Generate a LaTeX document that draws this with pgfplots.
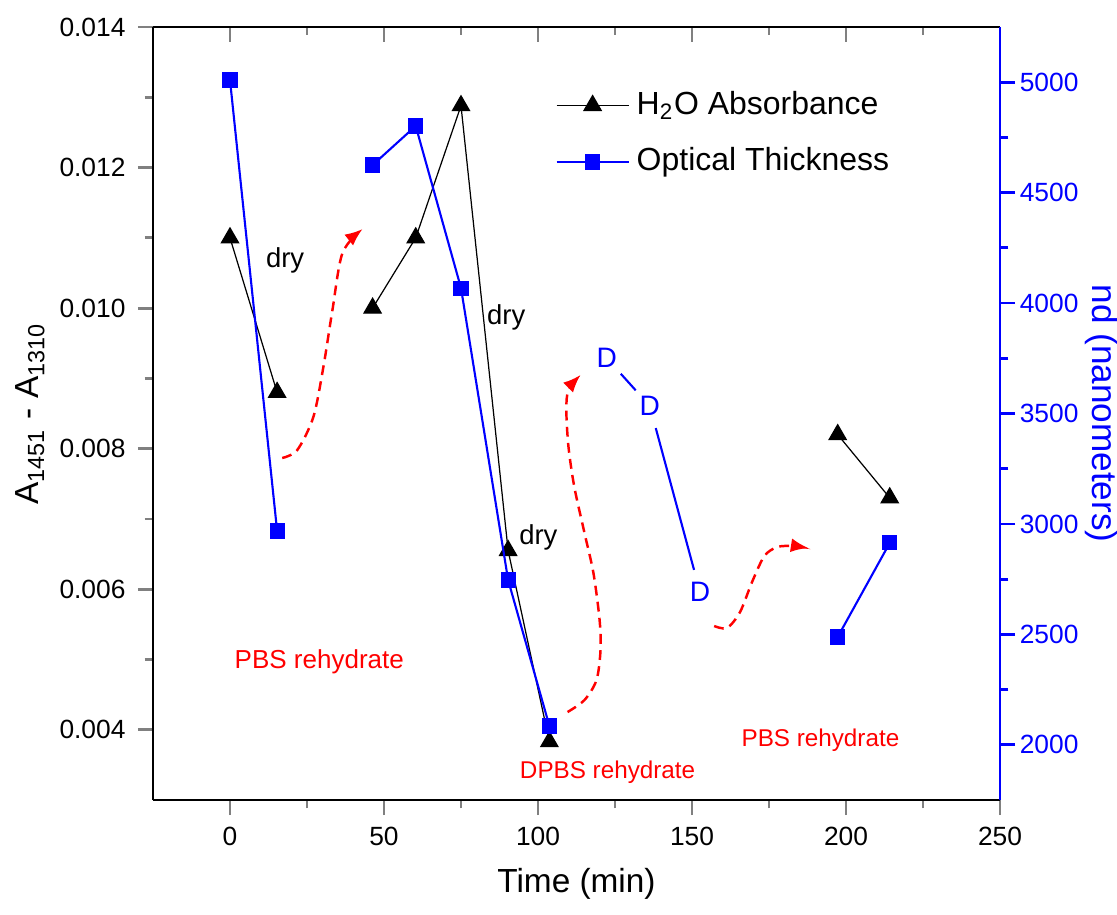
\documentclass[border=0pt]{standalone}
\usepackage{fontspec}
\setmainfont{Liberation Sans}
\usepackage{pgfplots}
\pgfplotsset{compat=1.18}
\usetikzlibrary{arrows.meta}

\begin{document}
\begin{tikzpicture}
\pgfplotsset{
  common/.style={
    at={(0,0)}, anchor=south west, scale only axis,
    width=8.47cm, height=7.73cm,
    xmin=-25, xmax=250,
    clip=false,
    /pgf/number format/assume math mode=true,
    tick label style={font=\fontsize{7.5}{9}\selectfont},
    major tick length=4.3pt, minor tick length=2.4pt,
    axis line style={line width=0.8pt},
    every tick/.append style={line width=0.8pt},
  },
}
% top axis (ticks pointing inward)
\begin{axis}[common,
  ymin=0, ymax=1,
  axis x line*=top, axis y line=none,
  tick align=inside,
  xtick={0,50,...,250}, minor x tick num=1,
  xticklabels={},
]
\end{axis}

% main (left) axis
\begin{axis}[common,
  ymin=0.003, ymax=0.014,
  axis x line*=bottom, axis y line*=left,
  tick align=outside,
  xtick={0,50,100,150,200,250}, minor x tick num=1,
  ytick={0.004,0.006,0.008,0.010,0.012,0.014}, minor y tick num=1,
  scaled y ticks=false,
  yticklabel style={/pgf/number format/.cd, fixed, fixed zerofill, precision=3},
  xlabel={Time (min)},
  ylabel={A\textsubscript{1451} - A\textsubscript{1310}},
  every axis x label/.style={at={(axis description cs:0.5,-0.109)}, anchor=center, font=\fontsize{9.5}{11}\selectfont},
  every axis y label/.style={at={(axis description cs:-0.145,0.5)}, anchor=center, rotate=90, font=\fontsize{9.5}{11}\selectfont},
  unbounded coords=jump,
]
\addplot[black, line width=0.35pt, mark=triangle*, mark size=2.8pt, mark options={solid, fill=black}]
  coordinates {(0,0.0110) (15.3,0.0088) (30,nan) (46.3,0.0100) (60.3,0.0110) (75,0.01288) (90.3,0.00655) (103.7,0.00383) (150,nan) (197.3,0.0082) (214.2,0.0073)};

% red dashed annotation arrows
\addplot[red, dashed, dash pattern=on 2.8pt off 1.8pt, line width=0.7pt, smooth, -{Latex[length=5pt,width=4pt]}]
  coordinates {(16.95,0.007867) (21.85,0.007981) (27.06,0.008450) (30.32,0.009162) (33.26,0.009973) (36.52,0.010784) (43.04,0.011125)};
\addplot[red, dashed, dash pattern=on 2.8pt off 1.8pt, line width=0.7pt, smooth, -{Latex[length=5pt,width=4pt]}]
  coordinates {(109.6,0.004252) (115.1,0.004423) (119.0,0.004708) (120.3,0.005135) (120.0,0.005561) (118.0,0.006230) (115.1,0.006799) (111.8,0.007454) (109.9,0.008023) (109.2,0.008550) (109.9,0.008834) (113.8,0.009048)};
\addplot[red, dashed, dash pattern=on 2.8pt off 1.8pt, line width=0.7pt, smooth, -{Latex[length=5pt,width=4pt]}]
  coordinates {(157.2,0.005476) (161.4,0.005448) (165.6,0.005675) (169.5,0.006102) (173.5,0.006472) (177.7,0.006600) (182.6,0.006614) (187.8,0.006586)};

\node[font=\fontsize{7.8}{9}\selectfont] at (axis cs:17.9,0.010684) {dry};
\node[font=\fontsize{7.8}{9}\selectfont] at (axis cs:89.7,0.009873) {dry};
\node[font=\fontsize{7.8}{9}\selectfont] at (axis cs:100.1,0.00673) {dry};
\node[red, font=\fontsize{7.4}{9}\selectfont] at (axis cs:29.0,0.004964) {PBS rehydrate};
\node[red, font=\fontsize{6.9}{9}\selectfont] at (axis cs:122.6,0.003398) {DPBS rehydrate};
\node[red, font=\fontsize{6.9}{9}\selectfont] at (axis cs:191.7,0.003854) {PBS rehydrate};
\end{axis}

% right axis
\begin{axis}[common,
  ymin=1750, ymax=5250,
  axis x line=none, axis y line*=right,
  tick align=outside,
  ytick={2000,2500,3000,3500,4000,4500,5000}, minor y tick num=1,
  yticklabel style={blue, xshift=-2.2pt, /pgf/number format/set thousands separator={}},
  y axis line style={blue},
  ytick style={blue},
  minor y tick style={blue},
  ylabel={nd (nanometers)},
  every axis y label/.style={at={(axis description cs:1.12,0.5)}, anchor=center, rotate=-90, blue, font=\fontsize{10}{12}\selectfont},
  unbounded coords=jump,
  legend style={at={(axis description cs:0.462,0.936)}, anchor=north west, draw=none, fill=none,
    font=\fontsize{9.1}{10}\selectfont, row sep=4pt,
    /tikz/every even column/.append style={column sep=2pt}},
  legend cell align=left,
  legend image code/.code={\draw[mark repeat=2,mark phase=2] plot coordinates {(0cm,0cm) (0.36cm,0cm) (0.72cm,0cm)};},
]
\addlegendimage{black, line width=0.35pt, mark=triangle*, mark size=2.8pt, mark options={solid, fill=black}}
\addlegendentry{H\textsubscript{2}O Absorbance}
\addplot[blue, line width=0.6pt, mark=square*, mark size=1.85pt, mark options={solid, fill=blue}]
  coordinates {(0,5010) (15.3,2968) (30,nan) (46.3,4625) (60.3,4802) (75,4068) (90.3,2746) (103.7,2085) (150,nan) (197.3,2488) (214.2,2914)};
\addlegendentry{Optical Thickness}

% D markers and their connecting segments
\addplot[blue, line width=0.6pt, shorten >=6pt, shorten <=6pt, forget plot] coordinates {(122.3,3751) (136.3,3534)};
\addplot[blue, line width=0.6pt, shorten >=6.5pt, shorten <=6.5pt, forget plot] coordinates {(136.3,3534) (152.6,2692)};
\addplot[blue, only marks, mark=text, text mark={\fontsize{8}{9}\selectfont\color{blue}D}, forget plot]
  coordinates {(122.3,3751) (136.3,3534) (152.6,2692)};
\end{axis}

\pgfresetboundingbox
\path (-1.53cm,-1.14cm) rectangle (9.64cm,8.00cm);
\end{tikzpicture}
\end{document}
